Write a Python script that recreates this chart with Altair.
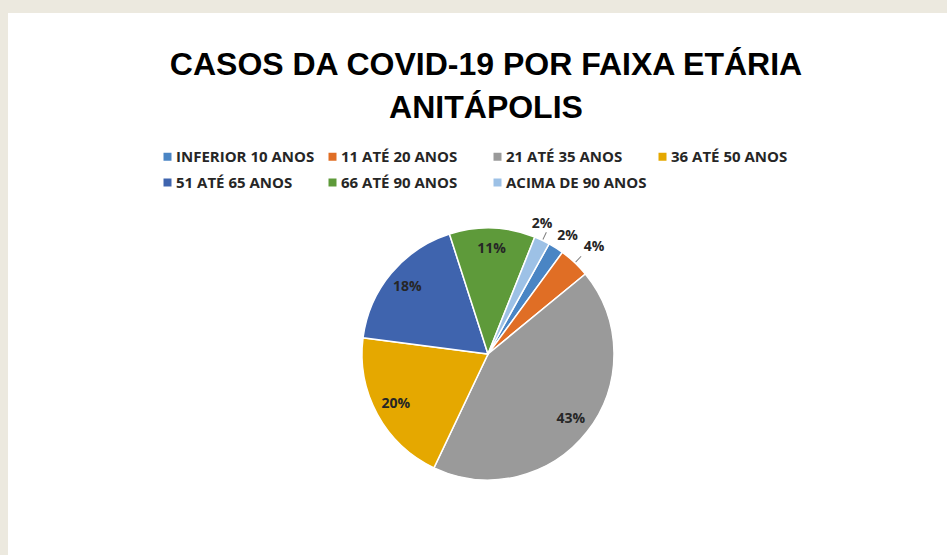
import math
import altair as alt
import pandas as pd

# Casos de COVID-19 em Anitápolis por faixa etária (percentual do total)
faixas = [
    "INFERIOR 10 ANOS",
    "11 ATÉ 20 ANOS",
    "21 ATÉ 35 ANOS",
    "36 ATÉ 50 ANOS",
    "51 ATÉ 65 ANOS",
    "66 ATÉ 90 ANOS",
    "ACIMA DE 90 ANOS",
]
percentual = [2, 4, 43, 20, 18, 11, 2]

titulo = ["CASOS DA COVID-19 POR FAIXA ETÁRIA", "ANITÁPOLIS"]

cores = ["#4A85C4", "#E06E25", "#9A9A9A", "#E5A800", "#3F64AE", "#5E9A3A", "#9DC1E6"]

# fatias pequenas que recebem linha de chamada até o rótulo
com_linha = ["11 ATÉ 20 ANOS", "ACIMA DE 90 ANOS"]

# rótulos externos: ajuste de ângulo (em pontos percentuais) e raio em pixels,
# para que os rótulos das fatias estreitas não se sobreponham
ajuste_externo = {
    "INFERIOR 10 ANOS": (0.4, 142),
    "11 ATÉ 20 ANOS": (0.35, 151),
    "ACIMA DE 90 ANOS": (-0.8, 141),
}

df = pd.DataFrame({"faixa": faixas, "pct": percentual, "ordem": range(len(faixas))})
df["desl"] = [ajuste_externo.get(f, (0, 105))[0] for f in faixas]
df["raio_rotulo"] = [ajuste_externo.get(f, (0, 105))[1] for f in faixas]

# pixel layout (inside the white panel)
CX, CY, R = 480, 341, 126
inicio = math.radians(29)
theta_scale = alt.Scale(domain=[0, 100], range=[inicio, inicio + 2 * math.pi])
color_scale = alt.Scale(domain=faixas, range=cores)

base = alt.Chart(df).transform_window(
    acum="sum(pct)", sort=[alt.SortField("ordem")]
).transform_calculate(
    meio="datum.acum - datum.pct / 2",
    meio2="datum.acum - datum.pct / 2 + 0.12",
    ang_rotulo="datum.acum - datum.pct / 2 + datum.desl",
    rotulo="datum.pct + '%'",
)

pizza = base.mark_arc(radius=R, stroke="white", strokeWidth=1.5).encode(
    theta=alt.Theta("pct:Q", stack=True, scale=theta_scale),
    order=alt.Order("ordem:Q"),
    color=alt.Color(
        "faixa:N",
        scale=color_scale,
        sort=faixas,
        legend=alt.Legend(
            title=None,
            orient="none",
            legendX=152,
            legendY=136,
            direction="horizontal",
            columns=4,
            gridAlign="all",
            columnPadding=8,
            rowPadding=10,
            symbolType="square",
            symbolSize=64,
            symbolStrokeWidth=0,
            labelOffset=1,
            labelFont="Open Sans",
            labelFontWeight="bold",
            labelFontSize=15,
            labelColor="#262626",
            labelLimit=300,
            padding=0,
        ),
    ),
    x=alt.value(CX),
    y=alt.value(CY),
)

linhas = base.transform_filter(
    alt.FieldOneOfPredicate(field="faixa", oneOf=com_linha)
).mark_arc(radius=R + 1, radius2=R + 9, color="#7F7F7F").encode(
    theta=alt.Theta("meio:Q", stack=False, scale=theta_scale),
    theta2="meio2:Q",
    x=alt.value(CX),
    y=alt.value(CY),
)

rotulos = base.mark_text(
    font="Open Sans", fontWeight="bold", fontSize=14, color="#262626"
).encode(
    theta=alt.Theta("ang_rotulo:Q", stack=False, scale=theta_scale),
    radius=alt.Radius("raio_rotulo:Q", scale=None),
    text="rotulo:N",
    x=alt.value(CX),
    y=alt.value(CY),
)

cabecalho = alt.Chart(pd.DataFrame({"linha": [titulo[0]]})).mark_text(
    text=titulo,
    font="Liberation Sans",
    fontWeight="bold",
    fontSize=32,
    lineHeight=43,
    color="black",
    baseline="middle",
    align="center",
).encode(x=alt.value(478), y=alt.value(52))

chart = (
    alt.layer(pizza, linhas, rotulos, cabecalho)
    .properties(
        width=939,
        height=542,
        autosize=alt.AutoSizeParams(type="none"),
        padding={"left": 8, "top": 13, "right": 0, "bottom": 0},
        background="#ECE9DF",
    )
    .configure_view(fill="white", stroke=None)
)

chart.save("out.html", embed_options={"renderer": "svg", "actions": False})
